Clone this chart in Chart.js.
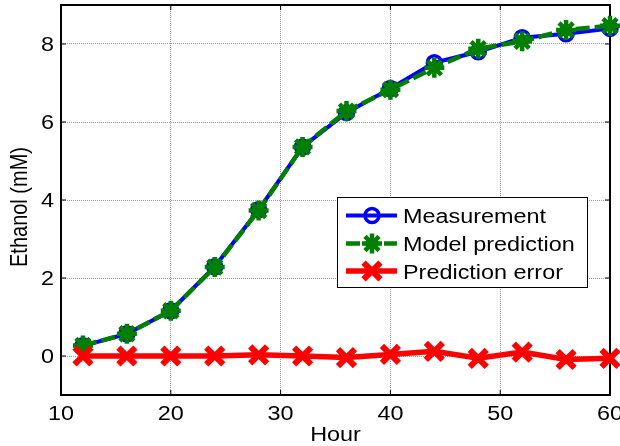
<!DOCTYPE html>
<html>
<head>
<meta charset="utf-8">
<script src="https://cdn.jsdelivr.net/npm/chart.js@4/dist/chart.umd.min.js"></script>
<style>
    html, body { margin: 0; padding: 0; background: #ffffff; }
    #wrap { width: 620px; height: 446px; }
</style>
</head>
<body>
<div id="wrap"><canvas id="ethanol-chart" width="620" height="446"></canvas></div>
<script>
// Sampling times and ethanol readings
const hours = [12, 16, 20, 24, 28, 32, 36, 40, 44, 48, 52, 56, 60];
const measured = [0.26, 0.57, 1.16, 2.29, 3.75, 5.36, 6.24, 6.86, 7.52, 7.80, 8.16, 8.26, 8.40];
const predicted = [0.27, 0.57, 1.16, 2.28, 3.73, 5.36, 6.28, 6.83, 7.39, 7.88, 8.07, 8.36, 8.47];
const predError = [0.00, 0.00, 0.00, 0.00, 0.03, 0.00, -0.04, 0.04, 0.12, -0.06, 0.10, -0.09, -0.06];

// Axis ticks
const xTicks = [10, 20, 30, 40, 50, 60];
const yTicks = [0, 2, 4, 6, 8];

const FONT = '20px "Liberation Sans", Arial, sans-serif';
const STRETCH = 1.17; // text is drawn a bit wide, like the exported figure

function points(ys) {
    return hours.map((h, i) => ({ x: h, y: ys[i] }));
}

// Draw text stretched horizontally
function wideText(ctx, text, x, y, align) {
    ctx.save();
    ctx.translate(x, y);
    ctx.scale(STRETCH, 1);
    ctx.textAlign = align;
    ctx.fillText(text, 0, 0);
    ctx.restore();
}

// Box around the axes plus inward tick marks
const axesBox = {
    id: 'axesBox',
    beforeDatasetsDraw(chart) {
        const ctx = chart.ctx;
        const a = chart.chartArea;
        const xs = chart.scales.x, ys = chart.scales.y;
        ctx.save();
        ctx.strokeStyle = '#000';
        ctx.lineWidth = 1;
        ctx.beginPath();
        xs.ticks.forEach(t => {
            const px = xs.getPixelForValue(t.value);
            ctx.moveTo(px, a.bottom); ctx.lineTo(px, a.bottom - 5);
            ctx.moveTo(px, a.top); ctx.lineTo(px, a.top + 5);
        });
        ys.ticks.forEach(t => {
            const py = ys.getPixelForValue(t.value);
            ctx.moveTo(a.left, py); ctx.lineTo(a.left + 5, py);
            ctx.moveTo(a.right, py); ctx.lineTo(a.right - 5, py);
        });
        ctx.stroke();
        ctx.lineWidth = 2;
        ctx.strokeRect(a.left, a.top, a.right - a.left, a.bottom - a.top);
        ctx.restore();
    },
    afterDraw(chart) {
        const ctx = chart.ctx;
        const a = chart.chartArea;
        const xs = chart.scales.x, ys = chart.scales.y;
        ctx.save();
        ctx.font = FONT;
        ctx.fillStyle = '#000';
        ctx.textBaseline = 'alphabetic';

        // tick labels
        xs.ticks.forEach(t => {
            wideText(ctx, String(t.value), xs.getPixelForValue(t.value), a.bottom + 25, 'center');
        });
        ys.ticks.forEach(t => {
            wideText(ctx, String(t.value), a.left - 7, ys.getPixelForValue(t.value) + 7, 'right');
        });

        // axis titles
        wideText(ctx, 'Hour', (a.left + a.right) / 2, 441, 'center');
        ctx.save();
        ctx.translate(27, 207);
        ctx.scale(STRETCH, 1);
        ctx.rotate(-Math.PI / 2);
        ctx.textAlign = 'center';
        ctx.fillText('Ethanol (mM)', 0, 0);
        ctx.restore();

        // legend
        const lx = 337, ly = 197, lw = 250, lh = 90;
        ctx.fillStyle = '#fff';
        ctx.fillRect(lx, ly, lw, lh);
        ctx.strokeStyle = '#000';
        ctx.lineWidth = 1;
        ctx.strokeRect(lx + 0.5, ly + 0.5, lw, lh);

        const rowY = [215.5, 243.5, 271];
        chart.data.datasets.forEach((ds, i) => {
            const y = rowY[i];
            ctx.save();
            ctx.strokeStyle = ds.borderColor;
            ctx.lineWidth = ds.borderWidth;
            ctx.setLineDash(ds.borderDash || []);
            ctx.beginPath();
            ctx.moveTo(346, y);
            ctx.lineTo(397, y);
            ctx.stroke();
            ctx.setLineDash([]);
            ctx.lineWidth = ds.pointBorderWidth;
            ctx.fillStyle = 'rgba(0,0,0,0)';
            Chart.helpers.drawPoint(ctx, {
                pointStyle: ds.pointStyle,
                radius: ds.pointRadius,
                borderWidth: ds.pointBorderWidth,
                rotation: 0
            }, 372, y);
            ctx.restore();
            ctx.fillStyle = '#000';
            wideText(ctx, ds.label, 403, y + 7.5, 'left');
        });
        ctx.restore();
    }
};

const ctx = document.getElementById('ethanol-chart').getContext('2d');
new Chart(ctx, {
    type: 'line',
    data: {
        datasets: [{
            label: 'Measurement',
            data: points(measured),
            borderColor: '#0000ff',
            borderWidth: 4,
            pointStyle: 'circle',
            pointRadius: 7,
            pointBorderWidth: 3.5,
            pointBorderColor: '#0000ff',
            pointBackgroundColor: 'rgba(0,0,0,0)',
            tension: 0,
            clip: false,
            order: 3
        }, {
            label: 'Model prediction',
            data: points(predicted),
            borderColor: '#007f00',
            borderWidth: 4.5,
            borderDash: [14, 5],
            pointStyle: 'star',
            pointRadius: 10,
            pointBorderWidth: 4.5,
            pointBorderColor: '#007f00',
            pointBackgroundColor: '#007f00',
            tension: 0,
            clip: false,
            order: 2
        }, {
            label: 'Prediction error',
            data: points(predError),
            borderColor: '#ff0000',
            borderWidth: 5.5,
            pointStyle: 'crossRot',
            pointRadius: 12,
            pointBorderWidth: 6,
            pointBorderColor: '#ff0000',
            pointBackgroundColor: '#ff0000',
            tension: 0,
            clip: false,
            order: 1
        }]
    },
    options: {
        responsive: false,
        devicePixelRatio: 1,
        animation: false,
        events: [],
        layout: { autoPadding: false, padding: { top: 5, right: 10, left: 0, bottom: 0 } },
        plugins: {
            legend: { display: false },
            title: { display: false },
            tooltip: { enabled: false }
        },
        scales: {
            x: {
                type: 'linear',
                min: 10,
                max: 60,
                afterBuildTicks: axis => { axis.ticks = xTicks.map(v => ({ value: v })); },
                afterFit: axis => { axis.height = 51; axis.paddingLeft = 0; axis.paddingRight = 0; },
                ticks: { display: false },
                grid: { color: '#9a9a9a', lineWidth: 1, drawTicks: false },
                border: { display: false, dash: [1, 1] }
            },
            y: {
                type: 'linear',
                min: -1,
                max: 9,
                afterBuildTicks: axis => { axis.ticks = yTicks.map(v => ({ value: v })); },
                afterFit: axis => { axis.width = 61; axis.paddingTop = 0; axis.paddingBottom = 0; },
                ticks: { display: false },
                grid: { color: '#9a9a9a', lineWidth: 1, drawTicks: false },
                border: { display: false, dash: [1, 1] }
            }
        }
    },
    plugins: [axesBox]
});
</script>
</body>
</html>
